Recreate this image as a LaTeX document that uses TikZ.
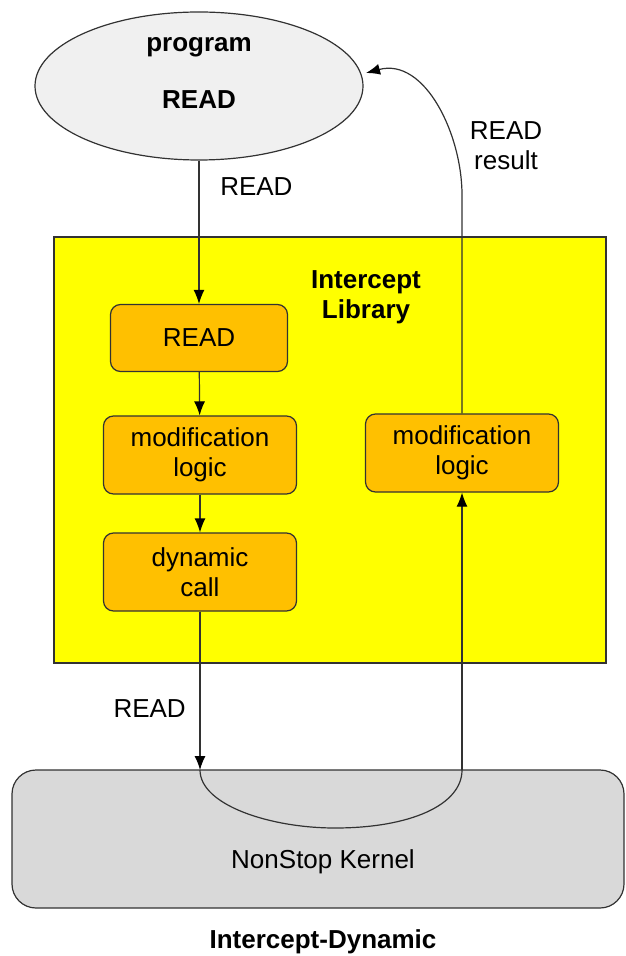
\documentclass[tikz,border=0pt]{standalone}
\usepackage{fontspec}
\setmainfont{Liberation Sans}
\definecolor{progGray}{RGB}{240,240,240}
\definecolor{libYellow}{RGB}{255,255,0}
\definecolor{boxOrange}{RGB}{255,192,0}
\definecolor{kernGray}{RGB}{217,217,217}
\definecolor{lineGray}{RGB}{50,50,50}
\usetikzlibrary{shapes,arrows.meta}

\begin{document}
\begin{tikzpicture}[x=0.5pt, y=-0.5pt, >={Latex[length=7pt,width=5.5pt,black]},
    every node/.style={font=\fontsize{13}{15}\selectfont, align=center},
    stepbox/.style={draw=lineGray, line width=0.6pt, fill=boxOrange, rounded corners=5pt, minimum width=96.5pt, minimum height=39pt},
    conn/.style={draw=lineGray, line width=0.6pt}]
    \useasboundingbox (0,0) rectangle (625,956);
    % program
    \node[ellipse, draw=lineGray, line width=0.6pt, fill=progGray, minimum width=164pt, minimum height=74pt] (prog) at (199,86) {};
    \node[font=\fontsize{13}{15}\selectfont\bfseries] (progname) at (199,47) {program};
    \node[font=\fontsize{13}{15}\selectfont\bfseries] (progread) at (199,100) {READ};
    % library
    \node[draw=lineGray, line width=0.6pt, fill=libYellow, minimum width=276pt, minimum height=213pt] (lib) at (330,450) {};
    \node[font=\fontsize{13}{15}\selectfont\bfseries] (libname) at (366,297) {Intercept\\Library};
    \node[stepbox, minimum width=88.5pt, minimum height=33.5pt] (rd) at (199,338) {READ};
    \node[stepbox] (modl) at (200,455) {modification\\logic};
    \node[stepbox] (dyn) at (200,572) {dynamic\\call};
    \node[stepbox] (modr) at (462,453) {modification\\logic};
    % kernel
    \node[draw=lineGray, line width=0.6pt, fill=kernGray, rounded corners=12pt, minimum width=306pt, minimum height=69pt] (kern) at (318,839) {};
    \node (kernname) at (323,862) {NonStop Kernel};
    \node[font=\fontsize{13}{15}\selectfont\bfseries] (title) at (323,942) {Intercept-Dynamic};
    \coordinate (kin) at (200,770);
    \coordinate (kbot) at (335,828);
    \coordinate (kout) at (462,770);
    \coordinate (bend) at (462,195);
    \coordinate (tip) at (366,73);
    % connectors
    \draw[conn, ->] (prog.south -| rd) -- (rd) node[pos=0.18, right=7pt] (lblread) {READ};
    \draw[conn, ->] (rd) -- (modl);
    \draw[conn, ->] (modl) -- (dyn);
    \draw[conn, ->] (dyn) -- (kin) node[pos=0.61, left=3.5pt] (lbldyn) {READ};
    \draw[conn] (kin) .. controls (200,805) and (270,828) .. (kbot) .. controls (410,828) and (462,805) .. (kout);
    \draw[conn, ->] (kout) -- (modr);
    \draw[conn, ->] (modr) -- (bend) to[out=90, in=15] (tip);
    \node (lblres) at (506,146) {READ\\result};
\end{tikzpicture}
\end{document}
